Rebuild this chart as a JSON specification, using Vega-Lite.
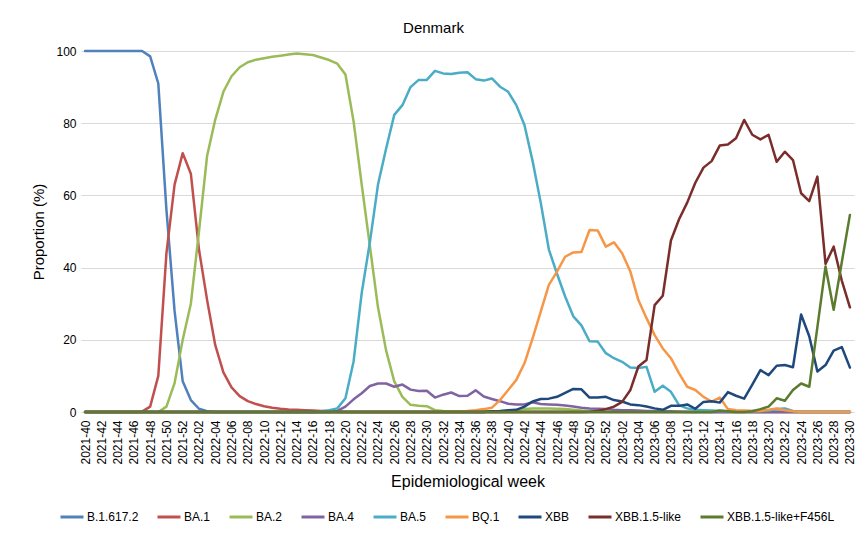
{
"$schema": "https://vega.github.io/schema/vega-lite/v6.json",
"width": 773, "height": 361,
"autosize": {"type": "none"},
"padding": {"left": 81, "top": 51, "right": 12, "bottom": 121},
"background": "white",
"title": {"text": "Denmark", "fontSize": 15, "fontWeight": "normal", "font": "Liberation Sans", "color": "#000000", "anchor": "middle", "frame": "group", "dx": -34, "offset": 9},
"config": {"view": {"stroke": null}},
"data": {"values": [
{"w":"2021-40","v":"B.1.617.2","p":100},{"w":"2021-41","v":"B.1.617.2","p":100},{"w":"2021-42","v":"B.1.617.2","p":100},{"w":"2021-43","v":"B.1.617.2","p":100},{"w":"2021-44","v":"B.1.617.2","p":100},{"w":"2021-45","v":"B.1.617.2","p":100},{"w":"2021-46","v":"B.1.617.2","p":100},{"w":"2021-47","v":"B.1.617.2","p":100},{"w":"2021-48","v":"B.1.617.2","p":98.5},{"w":"2021-49","v":"B.1.617.2","p":91},{"w":"2021-50","v":"B.1.617.2","p":56},{"w":"2021-51","v":"B.1.617.2","p":28},{"w":"2021-52","v":"B.1.617.2","p":8.5},{"w":"2022-01","v":"B.1.617.2","p":3.3},{"w":"2022-02","v":"B.1.617.2","p":0.9},{"w":"2022-03","v":"B.1.617.2","p":0.2},{"w":"2022-04","v":"B.1.617.2","p":0},{"w":"2022-05","v":"B.1.617.2","p":0},{"w":"2022-06","v":"B.1.617.2","p":0},{"w":"2022-07","v":"B.1.617.2","p":0},{"w":"2022-08","v":"B.1.617.2","p":0},{"w":"2022-09","v":"B.1.617.2","p":0},{"w":"2022-10","v":"B.1.617.2","p":0},{"w":"2022-11","v":"B.1.617.2","p":0},{"w":"2022-12","v":"B.1.617.2","p":0},{"w":"2022-13","v":"B.1.617.2","p":0},{"w":"2022-14","v":"B.1.617.2","p":0},{"w":"2022-15","v":"B.1.617.2","p":0},{"w":"2022-16","v":"B.1.617.2","p":0},{"w":"2022-17","v":"B.1.617.2","p":0},{"w":"2022-18","v":"B.1.617.2","p":0},{"w":"2022-19","v":"B.1.617.2","p":0},{"w":"2022-20","v":"B.1.617.2","p":0},{"w":"2022-21","v":"B.1.617.2","p":0},{"w":"2022-22","v":"B.1.617.2","p":0},{"w":"2022-23","v":"B.1.617.2","p":0},{"w":"2022-24","v":"B.1.617.2","p":0},{"w":"2022-25","v":"B.1.617.2","p":0},{"w":"2022-26","v":"B.1.617.2","p":0},{"w":"2022-27","v":"B.1.617.2","p":0},{"w":"2022-28","v":"B.1.617.2","p":0},{"w":"2022-29","v":"B.1.617.2","p":0},{"w":"2022-30","v":"B.1.617.2","p":0},{"w":"2022-31","v":"B.1.617.2","p":0},{"w":"2022-32","v":"B.1.617.2","p":0},{"w":"2022-33","v":"B.1.617.2","p":0},{"w":"2022-34","v":"B.1.617.2","p":0},{"w":"2022-35","v":"B.1.617.2","p":0},{"w":"2022-36","v":"B.1.617.2","p":0},{"w":"2022-37","v":"B.1.617.2","p":0},{"w":"2022-38","v":"B.1.617.2","p":0},{"w":"2022-39","v":"B.1.617.2","p":0},{"w":"2022-40","v":"B.1.617.2","p":0},{"w":"2022-41","v":"B.1.617.2","p":0},{"w":"2022-42","v":"B.1.617.2","p":0},{"w":"2022-43","v":"B.1.617.2","p":0},{"w":"2022-44","v":"B.1.617.2","p":0},{"w":"2022-45","v":"B.1.617.2","p":0},{"w":"2022-46","v":"B.1.617.2","p":0},{"w":"2022-47","v":"B.1.617.2","p":0},{"w":"2022-48","v":"B.1.617.2","p":0},{"w":"2022-49","v":"B.1.617.2","p":0},{"w":"2022-50","v":"B.1.617.2","p":0},{"w":"2022-51","v":"B.1.617.2","p":0},{"w":"2022-52","v":"B.1.617.2","p":0},{"w":"2023-01","v":"B.1.617.2","p":0},{"w":"2023-02","v":"B.1.617.2","p":0},{"w":"2023-03","v":"B.1.617.2","p":0},{"w":"2023-04","v":"B.1.617.2","p":0},{"w":"2023-05","v":"B.1.617.2","p":0},{"w":"2023-06","v":"B.1.617.2","p":0},{"w":"2023-07","v":"B.1.617.2","p":0},{"w":"2023-08","v":"B.1.617.2","p":0},{"w":"2023-09","v":"B.1.617.2","p":0},{"w":"2023-10","v":"B.1.617.2","p":0},{"w":"2023-11","v":"B.1.617.2","p":0},{"w":"2023-12","v":"B.1.617.2","p":0},{"w":"2023-13","v":"B.1.617.2","p":0},{"w":"2023-14","v":"B.1.617.2","p":0},{"w":"2023-15","v":"B.1.617.2","p":0},{"w":"2023-16","v":"B.1.617.2","p":0},{"w":"2023-17","v":"B.1.617.2","p":0},{"w":"2023-18","v":"B.1.617.2","p":0},{"w":"2023-19","v":"B.1.617.2","p":0},{"w":"2023-20","v":"B.1.617.2","p":0},{"w":"2023-21","v":"B.1.617.2","p":0},{"w":"2023-22","v":"B.1.617.2","p":0},{"w":"2023-23","v":"B.1.617.2","p":0},{"w":"2023-24","v":"B.1.617.2","p":0},{"w":"2023-25","v":"B.1.617.2","p":0},{"w":"2023-26","v":"B.1.617.2","p":0},{"w":"2023-27","v":"B.1.617.2","p":0},{"w":"2023-28","v":"B.1.617.2","p":0},{"w":"2023-29","v":"B.1.617.2","p":0},{"w":"2023-30","v":"B.1.617.2","p":0},
{"w":"2021-40","v":"BA.1","p":0},{"w":"2021-41","v":"BA.1","p":0},{"w":"2021-42","v":"BA.1","p":0},{"w":"2021-43","v":"BA.1","p":0},{"w":"2021-44","v":"BA.1","p":0},{"w":"2021-45","v":"BA.1","p":0},{"w":"2021-46","v":"BA.1","p":0},{"w":"2021-47","v":"BA.1","p":0.1},{"w":"2021-48","v":"BA.1","p":1.5},{"w":"2021-49","v":"BA.1","p":10},{"w":"2021-50","v":"BA.1","p":44},{"w":"2021-51","v":"BA.1","p":63},{"w":"2021-52","v":"BA.1","p":71.7},{"w":"2022-01","v":"BA.1","p":66},{"w":"2022-02","v":"BA.1","p":45},{"w":"2022-03","v":"BA.1","p":31},{"w":"2022-04","v":"BA.1","p":18.5},{"w":"2022-05","v":"BA.1","p":11},{"w":"2022-06","v":"BA.1","p":6.8},{"w":"2022-07","v":"BA.1","p":4.4},{"w":"2022-08","v":"BA.1","p":3},{"w":"2022-09","v":"BA.1","p":2.2},{"w":"2022-10","v":"BA.1","p":1.6},{"w":"2022-11","v":"BA.1","p":1.2},{"w":"2022-12","v":"BA.1","p":0.9},{"w":"2022-13","v":"BA.1","p":0.7},{"w":"2022-14","v":"BA.1","p":0.6},{"w":"2022-15","v":"BA.1","p":0.5},{"w":"2022-16","v":"BA.1","p":0.4},{"w":"2022-17","v":"BA.1","p":0.3},{"w":"2022-18","v":"BA.1","p":0.2},{"w":"2022-19","v":"BA.1","p":0.1},{"w":"2022-20","v":"BA.1","p":0},{"w":"2022-21","v":"BA.1","p":0},{"w":"2022-22","v":"BA.1","p":0},{"w":"2022-23","v":"BA.1","p":0},{"w":"2022-24","v":"BA.1","p":0},{"w":"2022-25","v":"BA.1","p":0},{"w":"2022-26","v":"BA.1","p":0},{"w":"2022-27","v":"BA.1","p":0},{"w":"2022-28","v":"BA.1","p":0},{"w":"2022-29","v":"BA.1","p":0},{"w":"2022-30","v":"BA.1","p":0},{"w":"2022-31","v":"BA.1","p":0},{"w":"2022-32","v":"BA.1","p":0},{"w":"2022-33","v":"BA.1","p":0},{"w":"2022-34","v":"BA.1","p":0},{"w":"2022-35","v":"BA.1","p":0},{"w":"2022-36","v":"BA.1","p":0},{"w":"2022-37","v":"BA.1","p":0},{"w":"2022-38","v":"BA.1","p":0},{"w":"2022-39","v":"BA.1","p":0},{"w":"2022-40","v":"BA.1","p":0},{"w":"2022-41","v":"BA.1","p":0},{"w":"2022-42","v":"BA.1","p":0},{"w":"2022-43","v":"BA.1","p":0},{"w":"2022-44","v":"BA.1","p":0},{"w":"2022-45","v":"BA.1","p":0},{"w":"2022-46","v":"BA.1","p":0},{"w":"2022-47","v":"BA.1","p":0},{"w":"2022-48","v":"BA.1","p":0},{"w":"2022-49","v":"BA.1","p":0},{"w":"2022-50","v":"BA.1","p":0},{"w":"2022-51","v":"BA.1","p":0},{"w":"2022-52","v":"BA.1","p":0},{"w":"2023-01","v":"BA.1","p":0},{"w":"2023-02","v":"BA.1","p":0},{"w":"2023-03","v":"BA.1","p":0},{"w":"2023-04","v":"BA.1","p":0},{"w":"2023-05","v":"BA.1","p":0},{"w":"2023-06","v":"BA.1","p":0},{"w":"2023-07","v":"BA.1","p":0},{"w":"2023-08","v":"BA.1","p":0},{"w":"2023-09","v":"BA.1","p":0},{"w":"2023-10","v":"BA.1","p":0},{"w":"2023-11","v":"BA.1","p":0},{"w":"2023-12","v":"BA.1","p":0},{"w":"2023-13","v":"BA.1","p":0},{"w":"2023-14","v":"BA.1","p":0},{"w":"2023-15","v":"BA.1","p":0},{"w":"2023-16","v":"BA.1","p":0},{"w":"2023-17","v":"BA.1","p":0},{"w":"2023-18","v":"BA.1","p":0},{"w":"2023-19","v":"BA.1","p":0},{"w":"2023-20","v":"BA.1","p":0},{"w":"2023-21","v":"BA.1","p":0},{"w":"2023-22","v":"BA.1","p":0},{"w":"2023-23","v":"BA.1","p":0},{"w":"2023-24","v":"BA.1","p":0},{"w":"2023-25","v":"BA.1","p":0},{"w":"2023-26","v":"BA.1","p":0},{"w":"2023-27","v":"BA.1","p":0},{"w":"2023-28","v":"BA.1","p":0},{"w":"2023-29","v":"BA.1","p":0},{"w":"2023-30","v":"BA.1","p":0},
{"w":"2021-40","v":"BA.2","p":0},{"w":"2021-41","v":"BA.2","p":0},{"w":"2021-42","v":"BA.2","p":0},{"w":"2021-43","v":"BA.2","p":0},{"w":"2021-44","v":"BA.2","p":0},{"w":"2021-45","v":"BA.2","p":0},{"w":"2021-46","v":"BA.2","p":0},{"w":"2021-47","v":"BA.2","p":0},{"w":"2021-48","v":"BA.2","p":0},{"w":"2021-49","v":"BA.2","p":0},{"w":"2021-50","v":"BA.2","p":1.5},{"w":"2021-51","v":"BA.2","p":8},{"w":"2021-52","v":"BA.2","p":20},{"w":"2022-01","v":"BA.2","p":30},{"w":"2022-02","v":"BA.2","p":50},{"w":"2022-03","v":"BA.2","p":71},{"w":"2022-04","v":"BA.2","p":81},{"w":"2022-05","v":"BA.2","p":88.7},{"w":"2022-06","v":"BA.2","p":93},{"w":"2022-07","v":"BA.2","p":95.5},{"w":"2022-08","v":"BA.2","p":96.9},{"w":"2022-09","v":"BA.2","p":97.6},{"w":"2022-10","v":"BA.2","p":98},{"w":"2022-11","v":"BA.2","p":98.4},{"w":"2022-12","v":"BA.2","p":98.7},{"w":"2022-13","v":"BA.2","p":99},{"w":"2022-14","v":"BA.2","p":99.3},{"w":"2022-15","v":"BA.2","p":99.1},{"w":"2022-16","v":"BA.2","p":98.9},{"w":"2022-17","v":"BA.2","p":98.2},{"w":"2022-18","v":"BA.2","p":97.5},{"w":"2022-19","v":"BA.2","p":96.5},{"w":"2022-20","v":"BA.2","p":93.5},{"w":"2022-21","v":"BA.2","p":80.5},{"w":"2022-22","v":"BA.2","p":63},{"w":"2022-23","v":"BA.2","p":46},{"w":"2022-24","v":"BA.2","p":29},{"w":"2022-25","v":"BA.2","p":17},{"w":"2022-26","v":"BA.2","p":8.5},{"w":"2022-27","v":"BA.2","p":4.2},{"w":"2022-28","v":"BA.2","p":2},{"w":"2022-29","v":"BA.2","p":1.7},{"w":"2022-30","v":"BA.2","p":1.6},{"w":"2022-31","v":"BA.2","p":0.5},{"w":"2022-32","v":"BA.2","p":0.3},{"w":"2022-33","v":"BA.2","p":0.2},{"w":"2022-34","v":"BA.2","p":0.2},{"w":"2022-35","v":"BA.2","p":0.2},{"w":"2022-36","v":"BA.2","p":0.2},{"w":"2022-37","v":"BA.2","p":0.2},{"w":"2022-38","v":"BA.2","p":0.2},{"w":"2022-39","v":"BA.2","p":0.2},{"w":"2022-40","v":"BA.2","p":0.3},{"w":"2022-41","v":"BA.2","p":0.5},{"w":"2022-42","v":"BA.2","p":0.8},{"w":"2022-43","v":"BA.2","p":1},{"w":"2022-44","v":"BA.2","p":1},{"w":"2022-45","v":"BA.2","p":1},{"w":"2022-46","v":"BA.2","p":0.9},{"w":"2022-47","v":"BA.2","p":0.8},{"w":"2022-48","v":"BA.2","p":0.6},{"w":"2022-49","v":"BA.2","p":0.4},{"w":"2022-50","v":"BA.2","p":0.3},{"w":"2022-51","v":"BA.2","p":0.2},{"w":"2022-52","v":"BA.2","p":0.1},{"w":"2023-01","v":"BA.2","p":0},{"w":"2023-02","v":"BA.2","p":0},{"w":"2023-03","v":"BA.2","p":0},{"w":"2023-04","v":"BA.2","p":0},{"w":"2023-05","v":"BA.2","p":0},{"w":"2023-06","v":"BA.2","p":0},{"w":"2023-07","v":"BA.2","p":0},{"w":"2023-08","v":"BA.2","p":0},{"w":"2023-09","v":"BA.2","p":0},{"w":"2023-10","v":"BA.2","p":0},{"w":"2023-11","v":"BA.2","p":0},{"w":"2023-12","v":"BA.2","p":0},{"w":"2023-13","v":"BA.2","p":0},{"w":"2023-14","v":"BA.2","p":0},{"w":"2023-15","v":"BA.2","p":0},{"w":"2023-16","v":"BA.2","p":0},{"w":"2023-17","v":"BA.2","p":0},{"w":"2023-18","v":"BA.2","p":0},{"w":"2023-19","v":"BA.2","p":0},{"w":"2023-20","v":"BA.2","p":0},{"w":"2023-21","v":"BA.2","p":0},{"w":"2023-22","v":"BA.2","p":0},{"w":"2023-23","v":"BA.2","p":0},{"w":"2023-24","v":"BA.2","p":0},{"w":"2023-25","v":"BA.2","p":0},{"w":"2023-26","v":"BA.2","p":0},{"w":"2023-27","v":"BA.2","p":0},{"w":"2023-28","v":"BA.2","p":0},{"w":"2023-29","v":"BA.2","p":0},{"w":"2023-30","v":"BA.2","p":0},
{"w":"2021-40","v":"BA.4","p":0},{"w":"2021-41","v":"BA.4","p":0},{"w":"2021-42","v":"BA.4","p":0},{"w":"2021-43","v":"BA.4","p":0},{"w":"2021-44","v":"BA.4","p":0},{"w":"2021-45","v":"BA.4","p":0},{"w":"2021-46","v":"BA.4","p":0},{"w":"2021-47","v":"BA.4","p":0},{"w":"2021-48","v":"BA.4","p":0},{"w":"2021-49","v":"BA.4","p":0},{"w":"2021-50","v":"BA.4","p":0},{"w":"2021-51","v":"BA.4","p":0},{"w":"2021-52","v":"BA.4","p":0},{"w":"2022-01","v":"BA.4","p":0},{"w":"2022-02","v":"BA.4","p":0},{"w":"2022-03","v":"BA.4","p":0},{"w":"2022-04","v":"BA.4","p":0},{"w":"2022-05","v":"BA.4","p":0},{"w":"2022-06","v":"BA.4","p":0},{"w":"2022-07","v":"BA.4","p":0},{"w":"2022-08","v":"BA.4","p":0},{"w":"2022-09","v":"BA.4","p":0},{"w":"2022-10","v":"BA.4","p":0},{"w":"2022-11","v":"BA.4","p":0},{"w":"2022-12","v":"BA.4","p":0},{"w":"2022-13","v":"BA.4","p":0},{"w":"2022-14","v":"BA.4","p":0},{"w":"2022-15","v":"BA.4","p":0},{"w":"2022-16","v":"BA.4","p":0},{"w":"2022-17","v":"BA.4","p":0},{"w":"2022-18","v":"BA.4","p":0},{"w":"2022-19","v":"BA.4","p":0.3},{"w":"2022-20","v":"BA.4","p":1.5},{"w":"2022-21","v":"BA.4","p":3.5},{"w":"2022-22","v":"BA.4","p":5.2},{"w":"2022-23","v":"BA.4","p":7.2},{"w":"2022-24","v":"BA.4","p":7.9},{"w":"2022-25","v":"BA.4","p":7.9},{"w":"2022-26","v":"BA.4","p":7},{"w":"2022-27","v":"BA.4","p":7.6},{"w":"2022-28","v":"BA.4","p":6.2},{"w":"2022-29","v":"BA.4","p":5.8},{"w":"2022-30","v":"BA.4","p":5.9},{"w":"2022-31","v":"BA.4","p":4},{"w":"2022-32","v":"BA.4","p":4.8},{"w":"2022-33","v":"BA.4","p":5.4},{"w":"2022-34","v":"BA.4","p":4.4},{"w":"2022-35","v":"BA.4","p":4.5},{"w":"2022-36","v":"BA.4","p":6},{"w":"2022-37","v":"BA.4","p":4.3},{"w":"2022-38","v":"BA.4","p":3.6},{"w":"2022-39","v":"BA.4","p":3},{"w":"2022-40","v":"BA.4","p":2.3},{"w":"2022-41","v":"BA.4","p":2.1},{"w":"2022-42","v":"BA.4","p":2.1},{"w":"2022-43","v":"BA.4","p":2.7},{"w":"2022-44","v":"BA.4","p":2.2},{"w":"2022-45","v":"BA.4","p":2.1},{"w":"2022-46","v":"BA.4","p":2},{"w":"2022-47","v":"BA.4","p":1.8},{"w":"2022-48","v":"BA.4","p":1.5},{"w":"2022-49","v":"BA.4","p":1.2},{"w":"2022-50","v":"BA.4","p":1},{"w":"2022-51","v":"BA.4","p":0.9},{"w":"2022-52","v":"BA.4","p":0.8},{"w":"2023-01","v":"BA.4","p":0.6},{"w":"2023-02","v":"BA.4","p":0.5},{"w":"2023-03","v":"BA.4","p":0.5},{"w":"2023-04","v":"BA.4","p":0.4},{"w":"2023-05","v":"BA.4","p":0.3},{"w":"2023-06","v":"BA.4","p":0.3},{"w":"2023-07","v":"BA.4","p":0.2},{"w":"2023-08","v":"BA.4","p":0.2},{"w":"2023-09","v":"BA.4","p":0.1},{"w":"2023-10","v":"BA.4","p":0},{"w":"2023-11","v":"BA.4","p":0},{"w":"2023-12","v":"BA.4","p":0},{"w":"2023-13","v":"BA.4","p":0},{"w":"2023-14","v":"BA.4","p":0},{"w":"2023-15","v":"BA.4","p":0},{"w":"2023-16","v":"BA.4","p":0},{"w":"2023-17","v":"BA.4","p":0},{"w":"2023-18","v":"BA.4","p":0},{"w":"2023-19","v":"BA.4","p":0},{"w":"2023-20","v":"BA.4","p":0},{"w":"2023-21","v":"BA.4","p":0},{"w":"2023-22","v":"BA.4","p":0},{"w":"2023-23","v":"BA.4","p":0},{"w":"2023-24","v":"BA.4","p":0},{"w":"2023-25","v":"BA.4","p":0},{"w":"2023-26","v":"BA.4","p":0},{"w":"2023-27","v":"BA.4","p":0},{"w":"2023-28","v":"BA.4","p":0},{"w":"2023-29","v":"BA.4","p":0},{"w":"2023-30","v":"BA.4","p":0},
{"w":"2021-40","v":"BA.5","p":0},{"w":"2021-41","v":"BA.5","p":0},{"w":"2021-42","v":"BA.5","p":0},{"w":"2021-43","v":"BA.5","p":0},{"w":"2021-44","v":"BA.5","p":0},{"w":"2021-45","v":"BA.5","p":0},{"w":"2021-46","v":"BA.5","p":0},{"w":"2021-47","v":"BA.5","p":0},{"w":"2021-48","v":"BA.5","p":0},{"w":"2021-49","v":"BA.5","p":0},{"w":"2021-50","v":"BA.5","p":0},{"w":"2021-51","v":"BA.5","p":0},{"w":"2021-52","v":"BA.5","p":0},{"w":"2022-01","v":"BA.5","p":0},{"w":"2022-02","v":"BA.5","p":0},{"w":"2022-03","v":"BA.5","p":0},{"w":"2022-04","v":"BA.5","p":0},{"w":"2022-05","v":"BA.5","p":0},{"w":"2022-06","v":"BA.5","p":0},{"w":"2022-07","v":"BA.5","p":0},{"w":"2022-08","v":"BA.5","p":0},{"w":"2022-09","v":"BA.5","p":0},{"w":"2022-10","v":"BA.5","p":0},{"w":"2022-11","v":"BA.5","p":0},{"w":"2022-12","v":"BA.5","p":0},{"w":"2022-13","v":"BA.5","p":0},{"w":"2022-14","v":"BA.5","p":0},{"w":"2022-15","v":"BA.5","p":0},{"w":"2022-16","v":"BA.5","p":0},{"w":"2022-17","v":"BA.5","p":0.2},{"w":"2022-18","v":"BA.5","p":0.5},{"w":"2022-19","v":"BA.5","p":1},{"w":"2022-20","v":"BA.5","p":3.8},{"w":"2022-21","v":"BA.5","p":14},{"w":"2022-22","v":"BA.5","p":33},{"w":"2022-23","v":"BA.5","p":47},{"w":"2022-24","v":"BA.5","p":63},{"w":"2022-25","v":"BA.5","p":73},{"w":"2022-26","v":"BA.5","p":82.3},{"w":"2022-27","v":"BA.5","p":85},{"w":"2022-28","v":"BA.5","p":90},{"w":"2022-29","v":"BA.5","p":92},{"w":"2022-30","v":"BA.5","p":92},{"w":"2022-31","v":"BA.5","p":94.5},{"w":"2022-32","v":"BA.5","p":93.8},{"w":"2022-33","v":"BA.5","p":93.6},{"w":"2022-34","v":"BA.5","p":94},{"w":"2022-35","v":"BA.5","p":94.1},{"w":"2022-36","v":"BA.5","p":92.2},{"w":"2022-37","v":"BA.5","p":91.8},{"w":"2022-38","v":"BA.5","p":92.4},{"w":"2022-39","v":"BA.5","p":90.1},{"w":"2022-40","v":"BA.5","p":88.7},{"w":"2022-41","v":"BA.5","p":85},{"w":"2022-42","v":"BA.5","p":79.5},{"w":"2022-43","v":"BA.5","p":69.5},{"w":"2022-44","v":"BA.5","p":58},{"w":"2022-45","v":"BA.5","p":45},{"w":"2022-46","v":"BA.5","p":38.3},{"w":"2022-47","v":"BA.5","p":32},{"w":"2022-48","v":"BA.5","p":26.5},{"w":"2022-49","v":"BA.5","p":24},{"w":"2022-50","v":"BA.5","p":19.6},{"w":"2022-51","v":"BA.5","p":19.5},{"w":"2022-52","v":"BA.5","p":16.3},{"w":"2023-01","v":"BA.5","p":14.9},{"w":"2023-02","v":"BA.5","p":13.9},{"w":"2023-03","v":"BA.5","p":12.3},{"w":"2023-04","v":"BA.5","p":12.2},{"w":"2023-05","v":"BA.5","p":12.5},{"w":"2023-06","v":"BA.5","p":5.6},{"w":"2023-07","v":"BA.5","p":7.3},{"w":"2023-08","v":"BA.5","p":5.6},{"w":"2023-09","v":"BA.5","p":1.9},{"w":"2023-10","v":"BA.5","p":1},{"w":"2023-11","v":"BA.5","p":0.6},{"w":"2023-12","v":"BA.5","p":0.5},{"w":"2023-13","v":"BA.5","p":0.4},{"w":"2023-14","v":"BA.5","p":0.3},{"w":"2023-15","v":"BA.5","p":0.2},{"w":"2023-16","v":"BA.5","p":0.2},{"w":"2023-17","v":"BA.5","p":0.2},{"w":"2023-18","v":"BA.5","p":0.3},{"w":"2023-19","v":"BA.5","p":0.3},{"w":"2023-20","v":"BA.5","p":0.4},{"w":"2023-21","v":"BA.5","p":0.8},{"w":"2023-22","v":"BA.5","p":1},{"w":"2023-23","v":"BA.5","p":0.3},{"w":"2023-24","v":"BA.5","p":0},{"w":"2023-25","v":"BA.5","p":0},{"w":"2023-26","v":"BA.5","p":0},{"w":"2023-27","v":"BA.5","p":0},{"w":"2023-28","v":"BA.5","p":0},{"w":"2023-29","v":"BA.5","p":0},{"w":"2023-30","v":"BA.5","p":0},
{"w":"2021-40","v":"BQ.1","p":0},{"w":"2021-41","v":"BQ.1","p":0},{"w":"2021-42","v":"BQ.1","p":0},{"w":"2021-43","v":"BQ.1","p":0},{"w":"2021-44","v":"BQ.1","p":0},{"w":"2021-45","v":"BQ.1","p":0},{"w":"2021-46","v":"BQ.1","p":0},{"w":"2021-47","v":"BQ.1","p":0},{"w":"2021-48","v":"BQ.1","p":0},{"w":"2021-49","v":"BQ.1","p":0},{"w":"2021-50","v":"BQ.1","p":0},{"w":"2021-51","v":"BQ.1","p":0},{"w":"2021-52","v":"BQ.1","p":0},{"w":"2022-01","v":"BQ.1","p":0},{"w":"2022-02","v":"BQ.1","p":0},{"w":"2022-03","v":"BQ.1","p":0},{"w":"2022-04","v":"BQ.1","p":0},{"w":"2022-05","v":"BQ.1","p":0},{"w":"2022-06","v":"BQ.1","p":0},{"w":"2022-07","v":"BQ.1","p":0},{"w":"2022-08","v":"BQ.1","p":0},{"w":"2022-09","v":"BQ.1","p":0},{"w":"2022-10","v":"BQ.1","p":0},{"w":"2022-11","v":"BQ.1","p":0},{"w":"2022-12","v":"BQ.1","p":0},{"w":"2022-13","v":"BQ.1","p":0},{"w":"2022-14","v":"BQ.1","p":0},{"w":"2022-15","v":"BQ.1","p":0},{"w":"2022-16","v":"BQ.1","p":0},{"w":"2022-17","v":"BQ.1","p":0},{"w":"2022-18","v":"BQ.1","p":0},{"w":"2022-19","v":"BQ.1","p":0},{"w":"2022-20","v":"BQ.1","p":0},{"w":"2022-21","v":"BQ.1","p":0},{"w":"2022-22","v":"BQ.1","p":0},{"w":"2022-23","v":"BQ.1","p":0},{"w":"2022-24","v":"BQ.1","p":0},{"w":"2022-25","v":"BQ.1","p":0},{"w":"2022-26","v":"BQ.1","p":0},{"w":"2022-27","v":"BQ.1","p":0},{"w":"2022-28","v":"BQ.1","p":0},{"w":"2022-29","v":"BQ.1","p":0},{"w":"2022-30","v":"BQ.1","p":0},{"w":"2022-31","v":"BQ.1","p":0},{"w":"2022-32","v":"BQ.1","p":0},{"w":"2022-33","v":"BQ.1","p":0},{"w":"2022-34","v":"BQ.1","p":0},{"w":"2022-35","v":"BQ.1","p":0.3},{"w":"2022-36","v":"BQ.1","p":0.5},{"w":"2022-37","v":"BQ.1","p":0.8},{"w":"2022-38","v":"BQ.1","p":1.2},{"w":"2022-39","v":"BQ.1","p":3.3},{"w":"2022-40","v":"BQ.1","p":6.1},{"w":"2022-41","v":"BQ.1","p":8.9},{"w":"2022-42","v":"BQ.1","p":13.5},{"w":"2022-43","v":"BQ.1","p":20.4},{"w":"2022-44","v":"BQ.1","p":27.8},{"w":"2022-45","v":"BQ.1","p":35.2},{"w":"2022-46","v":"BQ.1","p":38.9},{"w":"2022-47","v":"BQ.1","p":43},{"w":"2022-48","v":"BQ.1","p":44.2},{"w":"2022-49","v":"BQ.1","p":44.3},{"w":"2022-50","v":"BQ.1","p":50.4},{"w":"2022-51","v":"BQ.1","p":50.3},{"w":"2022-52","v":"BQ.1","p":45.8},{"w":"2023-01","v":"BQ.1","p":47},{"w":"2023-02","v":"BQ.1","p":44},{"w":"2023-03","v":"BQ.1","p":39},{"w":"2023-04","v":"BQ.1","p":31},{"w":"2023-05","v":"BQ.1","p":26},{"w":"2023-06","v":"BQ.1","p":21.3},{"w":"2023-07","v":"BQ.1","p":17.6},{"w":"2023-08","v":"BQ.1","p":14.9},{"w":"2023-09","v":"BQ.1","p":10.7},{"w":"2023-10","v":"BQ.1","p":7},{"w":"2023-11","v":"BQ.1","p":6.1},{"w":"2023-12","v":"BQ.1","p":4.2},{"w":"2023-13","v":"BQ.1","p":2.9},{"w":"2023-14","v":"BQ.1","p":4},{"w":"2023-15","v":"BQ.1","p":0.8},{"w":"2023-16","v":"BQ.1","p":0.5},{"w":"2023-17","v":"BQ.1","p":0.4},{"w":"2023-18","v":"BQ.1","p":0.3},{"w":"2023-19","v":"BQ.1","p":0.3},{"w":"2023-20","v":"BQ.1","p":0.6},{"w":"2023-21","v":"BQ.1","p":1},{"w":"2023-22","v":"BQ.1","p":0.5},{"w":"2023-23","v":"BQ.1","p":0.2},{"w":"2023-24","v":"BQ.1","p":0},{"w":"2023-25","v":"BQ.1","p":0},{"w":"2023-26","v":"BQ.1","p":0},{"w":"2023-27","v":"BQ.1","p":0},{"w":"2023-28","v":"BQ.1","p":0},{"w":"2023-29","v":"BQ.1","p":0},{"w":"2023-30","v":"BQ.1","p":0},
{"w":"2021-40","v":"XBB","p":0},{"w":"2021-41","v":"XBB","p":0},{"w":"2021-42","v":"XBB","p":0},{"w":"2021-43","v":"XBB","p":0},{"w":"2021-44","v":"XBB","p":0},{"w":"2021-45","v":"XBB","p":0},{"w":"2021-46","v":"XBB","p":0},{"w":"2021-47","v":"XBB","p":0},{"w":"2021-48","v":"XBB","p":0},{"w":"2021-49","v":"XBB","p":0},{"w":"2021-50","v":"XBB","p":0},{"w":"2021-51","v":"XBB","p":0},{"w":"2021-52","v":"XBB","p":0},{"w":"2022-01","v":"XBB","p":0},{"w":"2022-02","v":"XBB","p":0},{"w":"2022-03","v":"XBB","p":0},{"w":"2022-04","v":"XBB","p":0},{"w":"2022-05","v":"XBB","p":0},{"w":"2022-06","v":"XBB","p":0},{"w":"2022-07","v":"XBB","p":0},{"w":"2022-08","v":"XBB","p":0},{"w":"2022-09","v":"XBB","p":0},{"w":"2022-10","v":"XBB","p":0},{"w":"2022-11","v":"XBB","p":0},{"w":"2022-12","v":"XBB","p":0},{"w":"2022-13","v":"XBB","p":0},{"w":"2022-14","v":"XBB","p":0},{"w":"2022-15","v":"XBB","p":0},{"w":"2022-16","v":"XBB","p":0},{"w":"2022-17","v":"XBB","p":0},{"w":"2022-18","v":"XBB","p":0},{"w":"2022-19","v":"XBB","p":0},{"w":"2022-20","v":"XBB","p":0},{"w":"2022-21","v":"XBB","p":0},{"w":"2022-22","v":"XBB","p":0},{"w":"2022-23","v":"XBB","p":0},{"w":"2022-24","v":"XBB","p":0},{"w":"2022-25","v":"XBB","p":0},{"w":"2022-26","v":"XBB","p":0},{"w":"2022-27","v":"XBB","p":0},{"w":"2022-28","v":"XBB","p":0},{"w":"2022-29","v":"XBB","p":0},{"w":"2022-30","v":"XBB","p":0},{"w":"2022-31","v":"XBB","p":0},{"w":"2022-32","v":"XBB","p":0},{"w":"2022-33","v":"XBB","p":0},{"w":"2022-34","v":"XBB","p":0},{"w":"2022-35","v":"XBB","p":0},{"w":"2022-36","v":"XBB","p":0},{"w":"2022-37","v":"XBB","p":0},{"w":"2022-38","v":"XBB","p":0.2},{"w":"2022-39","v":"XBB","p":0.3},{"w":"2022-40","v":"XBB","p":0.5},{"w":"2022-41","v":"XBB","p":0.6},{"w":"2022-42","v":"XBB","p":1.5},{"w":"2022-43","v":"XBB","p":2.9},{"w":"2022-44","v":"XBB","p":3.6},{"w":"2022-45","v":"XBB","p":3.7},{"w":"2022-46","v":"XBB","p":4.2},{"w":"2022-47","v":"XBB","p":5.3},{"w":"2022-48","v":"XBB","p":6.4},{"w":"2022-49","v":"XBB","p":6.3},{"w":"2022-50","v":"XBB","p":4},{"w":"2022-51","v":"XBB","p":4},{"w":"2022-52","v":"XBB","p":4.2},{"w":"2023-01","v":"XBB","p":3.3},{"w":"2023-02","v":"XBB","p":2.9},{"w":"2023-03","v":"XBB","p":2.1},{"w":"2023-04","v":"XBB","p":1.9},{"w":"2023-05","v":"XBB","p":1.5},{"w":"2023-06","v":"XBB","p":1},{"w":"2023-07","v":"XBB","p":0.6},{"w":"2023-08","v":"XBB","p":1.7},{"w":"2023-09","v":"XBB","p":1.7},{"w":"2023-10","v":"XBB","p":2.1},{"w":"2023-11","v":"XBB","p":0.9},{"w":"2023-12","v":"XBB","p":2.8},{"w":"2023-13","v":"XBB","p":3},{"w":"2023-14","v":"XBB","p":2.6},{"w":"2023-15","v":"XBB","p":5.5},{"w":"2023-16","v":"XBB","p":4.5},{"w":"2023-17","v":"XBB","p":3.7},{"w":"2023-18","v":"XBB","p":7.6},{"w":"2023-19","v":"XBB","p":11.6},{"w":"2023-20","v":"XBB","p":10.2},{"w":"2023-21","v":"XBB","p":12.8},{"w":"2023-22","v":"XBB","p":13},{"w":"2023-23","v":"XBB","p":12.4},{"w":"2023-24","v":"XBB","p":27},{"w":"2023-25","v":"XBB","p":21},{"w":"2023-26","v":"XBB","p":11.2},{"w":"2023-27","v":"XBB","p":13},{"w":"2023-28","v":"XBB","p":17},{"w":"2023-29","v":"XBB","p":18},{"w":"2023-30","v":"XBB","p":12.3},
{"w":"2021-40","v":"XBB.1.5-like","p":0},{"w":"2021-41","v":"XBB.1.5-like","p":0},{"w":"2021-42","v":"XBB.1.5-like","p":0},{"w":"2021-43","v":"XBB.1.5-like","p":0},{"w":"2021-44","v":"XBB.1.5-like","p":0},{"w":"2021-45","v":"XBB.1.5-like","p":0},{"w":"2021-46","v":"XBB.1.5-like","p":0},{"w":"2021-47","v":"XBB.1.5-like","p":0},{"w":"2021-48","v":"XBB.1.5-like","p":0},{"w":"2021-49","v":"XBB.1.5-like","p":0},{"w":"2021-50","v":"XBB.1.5-like","p":0},{"w":"2021-51","v":"XBB.1.5-like","p":0},{"w":"2021-52","v":"XBB.1.5-like","p":0},{"w":"2022-01","v":"XBB.1.5-like","p":0},{"w":"2022-02","v":"XBB.1.5-like","p":0},{"w":"2022-03","v":"XBB.1.5-like","p":0},{"w":"2022-04","v":"XBB.1.5-like","p":0},{"w":"2022-05","v":"XBB.1.5-like","p":0},{"w":"2022-06","v":"XBB.1.5-like","p":0},{"w":"2022-07","v":"XBB.1.5-like","p":0},{"w":"2022-08","v":"XBB.1.5-like","p":0},{"w":"2022-09","v":"XBB.1.5-like","p":0},{"w":"2022-10","v":"XBB.1.5-like","p":0},{"w":"2022-11","v":"XBB.1.5-like","p":0},{"w":"2022-12","v":"XBB.1.5-like","p":0},{"w":"2022-13","v":"XBB.1.5-like","p":0},{"w":"2022-14","v":"XBB.1.5-like","p":0},{"w":"2022-15","v":"XBB.1.5-like","p":0},{"w":"2022-16","v":"XBB.1.5-like","p":0},{"w":"2022-17","v":"XBB.1.5-like","p":0},{"w":"2022-18","v":"XBB.1.5-like","p":0},{"w":"2022-19","v":"XBB.1.5-like","p":0},{"w":"2022-20","v":"XBB.1.5-like","p":0},{"w":"2022-21","v":"XBB.1.5-like","p":0},{"w":"2022-22","v":"XBB.1.5-like","p":0},{"w":"2022-23","v":"XBB.1.5-like","p":0},{"w":"2022-24","v":"XBB.1.5-like","p":0},{"w":"2022-25","v":"XBB.1.5-like","p":0},{"w":"2022-26","v":"XBB.1.5-like","p":0},{"w":"2022-27","v":"XBB.1.5-like","p":0},{"w":"2022-28","v":"XBB.1.5-like","p":0},{"w":"2022-29","v":"XBB.1.5-like","p":0},{"w":"2022-30","v":"XBB.1.5-like","p":0},{"w":"2022-31","v":"XBB.1.5-like","p":0},{"w":"2022-32","v":"XBB.1.5-like","p":0},{"w":"2022-33","v":"XBB.1.5-like","p":0},{"w":"2022-34","v":"XBB.1.5-like","p":0},{"w":"2022-35","v":"XBB.1.5-like","p":0},{"w":"2022-36","v":"XBB.1.5-like","p":0},{"w":"2022-37","v":"XBB.1.5-like","p":0},{"w":"2022-38","v":"XBB.1.5-like","p":0},{"w":"2022-39","v":"XBB.1.5-like","p":0},{"w":"2022-40","v":"XBB.1.5-like","p":0},{"w":"2022-41","v":"XBB.1.5-like","p":0},{"w":"2022-42","v":"XBB.1.5-like","p":0},{"w":"2022-43","v":"XBB.1.5-like","p":0},{"w":"2022-44","v":"XBB.1.5-like","p":0},{"w":"2022-45","v":"XBB.1.5-like","p":0},{"w":"2022-46","v":"XBB.1.5-like","p":0},{"w":"2022-47","v":"XBB.1.5-like","p":0},{"w":"2022-48","v":"XBB.1.5-like","p":0},{"w":"2022-49","v":"XBB.1.5-like","p":0},{"w":"2022-50","v":"XBB.1.5-like","p":0.1},{"w":"2022-51","v":"XBB.1.5-like","p":0.3},{"w":"2022-52","v":"XBB.1.5-like","p":0.8},{"w":"2023-01","v":"XBB.1.5-like","p":1.5},{"w":"2023-02","v":"XBB.1.5-like","p":2.8},{"w":"2023-03","v":"XBB.1.5-like","p":6},{"w":"2023-04","v":"XBB.1.5-like","p":12.6},{"w":"2023-05","v":"XBB.1.5-like","p":14.4},{"w":"2023-06","v":"XBB.1.5-like","p":29.6},{"w":"2023-07","v":"XBB.1.5-like","p":32.2},{"w":"2023-08","v":"XBB.1.5-like","p":47.5},{"w":"2023-09","v":"XBB.1.5-like","p":53.4},{"w":"2023-10","v":"XBB.1.5-like","p":58},{"w":"2023-11","v":"XBB.1.5-like","p":63.5},{"w":"2023-12","v":"XBB.1.5-like","p":67.7},{"w":"2023-13","v":"XBB.1.5-like","p":69.5},{"w":"2023-14","v":"XBB.1.5-like","p":73.8},{"w":"2023-15","v":"XBB.1.5-like","p":74.1},{"w":"2023-16","v":"XBB.1.5-like","p":75.8},{"w":"2023-17","v":"XBB.1.5-like","p":80.9},{"w":"2023-18","v":"XBB.1.5-like","p":76.8},{"w":"2023-19","v":"XBB.1.5-like","p":75.5},{"w":"2023-20","v":"XBB.1.5-like","p":76.8},{"w":"2023-21","v":"XBB.1.5-like","p":69.3},{"w":"2023-22","v":"XBB.1.5-like","p":72.1},{"w":"2023-23","v":"XBB.1.5-like","p":69.8},{"w":"2023-24","v":"XBB.1.5-like","p":60.6},{"w":"2023-25","v":"XBB.1.5-like","p":58.4},{"w":"2023-26","v":"XBB.1.5-like","p":65.2},{"w":"2023-27","v":"XBB.1.5-like","p":41},{"w":"2023-28","v":"XBB.1.5-like","p":45.8},{"w":"2023-29","v":"XBB.1.5-like","p":36.4},{"w":"2023-30","v":"XBB.1.5-like","p":29},
{"w":"2021-40","v":"XBB.1.5-like+F456L","p":0},{"w":"2021-41","v":"XBB.1.5-like+F456L","p":0},{"w":"2021-42","v":"XBB.1.5-like+F456L","p":0},{"w":"2021-43","v":"XBB.1.5-like+F456L","p":0},{"w":"2021-44","v":"XBB.1.5-like+F456L","p":0},{"w":"2021-45","v":"XBB.1.5-like+F456L","p":0},{"w":"2021-46","v":"XBB.1.5-like+F456L","p":0},{"w":"2021-47","v":"XBB.1.5-like+F456L","p":0},{"w":"2021-48","v":"XBB.1.5-like+F456L","p":0},{"w":"2021-49","v":"XBB.1.5-like+F456L","p":0},{"w":"2021-50","v":"XBB.1.5-like+F456L","p":0},{"w":"2021-51","v":"XBB.1.5-like+F456L","p":0},{"w":"2021-52","v":"XBB.1.5-like+F456L","p":0},{"w":"2022-01","v":"XBB.1.5-like+F456L","p":0},{"w":"2022-02","v":"XBB.1.5-like+F456L","p":0},{"w":"2022-03","v":"XBB.1.5-like+F456L","p":0},{"w":"2022-04","v":"XBB.1.5-like+F456L","p":0},{"w":"2022-05","v":"XBB.1.5-like+F456L","p":0},{"w":"2022-06","v":"XBB.1.5-like+F456L","p":0},{"w":"2022-07","v":"XBB.1.5-like+F456L","p":0},{"w":"2022-08","v":"XBB.1.5-like+F456L","p":0},{"w":"2022-09","v":"XBB.1.5-like+F456L","p":0},{"w":"2022-10","v":"XBB.1.5-like+F456L","p":0},{"w":"2022-11","v":"XBB.1.5-like+F456L","p":0},{"w":"2022-12","v":"XBB.1.5-like+F456L","p":0},{"w":"2022-13","v":"XBB.1.5-like+F456L","p":0},{"w":"2022-14","v":"XBB.1.5-like+F456L","p":0},{"w":"2022-15","v":"XBB.1.5-like+F456L","p":0},{"w":"2022-16","v":"XBB.1.5-like+F456L","p":0},{"w":"2022-17","v":"XBB.1.5-like+F456L","p":0},{"w":"2022-18","v":"XBB.1.5-like+F456L","p":0},{"w":"2022-19","v":"XBB.1.5-like+F456L","p":0},{"w":"2022-20","v":"XBB.1.5-like+F456L","p":0},{"w":"2022-21","v":"XBB.1.5-like+F456L","p":0},{"w":"2022-22","v":"XBB.1.5-like+F456L","p":0},{"w":"2022-23","v":"XBB.1.5-like+F456L","p":0},{"w":"2022-24","v":"XBB.1.5-like+F456L","p":0},{"w":"2022-25","v":"XBB.1.5-like+F456L","p":0},{"w":"2022-26","v":"XBB.1.5-like+F456L","p":0},{"w":"2022-27","v":"XBB.1.5-like+F456L","p":0},{"w":"2022-28","v":"XBB.1.5-like+F456L","p":0},{"w":"2022-29","v":"XBB.1.5-like+F456L","p":0},{"w":"2022-30","v":"XBB.1.5-like+F456L","p":0},{"w":"2022-31","v":"XBB.1.5-like+F456L","p":0},{"w":"2022-32","v":"XBB.1.5-like+F456L","p":0},{"w":"2022-33","v":"XBB.1.5-like+F456L","p":0},{"w":"2022-34","v":"XBB.1.5-like+F456L","p":0},{"w":"2022-35","v":"XBB.1.5-like+F456L","p":0},{"w":"2022-36","v":"XBB.1.5-like+F456L","p":0},{"w":"2022-37","v":"XBB.1.5-like+F456L","p":0},{"w":"2022-38","v":"XBB.1.5-like+F456L","p":0},{"w":"2022-39","v":"XBB.1.5-like+F456L","p":0},{"w":"2022-40","v":"XBB.1.5-like+F456L","p":0},{"w":"2022-41","v":"XBB.1.5-like+F456L","p":0},{"w":"2022-42","v":"XBB.1.5-like+F456L","p":0},{"w":"2022-43","v":"XBB.1.5-like+F456L","p":0},{"w":"2022-44","v":"XBB.1.5-like+F456L","p":0},{"w":"2022-45","v":"XBB.1.5-like+F456L","p":0},{"w":"2022-46","v":"XBB.1.5-like+F456L","p":0},{"w":"2022-47","v":"XBB.1.5-like+F456L","p":0},{"w":"2022-48","v":"XBB.1.5-like+F456L","p":0},{"w":"2022-49","v":"XBB.1.5-like+F456L","p":0},{"w":"2022-50","v":"XBB.1.5-like+F456L","p":0},{"w":"2022-51","v":"XBB.1.5-like+F456L","p":0},{"w":"2022-52","v":"XBB.1.5-like+F456L","p":0},{"w":"2023-01","v":"XBB.1.5-like+F456L","p":0},{"w":"2023-02","v":"XBB.1.5-like+F456L","p":0},{"w":"2023-03","v":"XBB.1.5-like+F456L","p":0},{"w":"2023-04","v":"XBB.1.5-like+F456L","p":0},{"w":"2023-05","v":"XBB.1.5-like+F456L","p":0},{"w":"2023-06","v":"XBB.1.5-like+F456L","p":0},{"w":"2023-07","v":"XBB.1.5-like+F456L","p":0},{"w":"2023-08","v":"XBB.1.5-like+F456L","p":0},{"w":"2023-09","v":"XBB.1.5-like+F456L","p":0},{"w":"2023-10","v":"XBB.1.5-like+F456L","p":0},{"w":"2023-11","v":"XBB.1.5-like+F456L","p":0},{"w":"2023-12","v":"XBB.1.5-like+F456L","p":0},{"w":"2023-13","v":"XBB.1.5-like+F456L","p":0},{"w":"2023-14","v":"XBB.1.5-like+F456L","p":0.4},{"w":"2023-15","v":"XBB.1.5-like+F456L","p":0.2},{"w":"2023-16","v":"XBB.1.5-like+F456L","p":0},{"w":"2023-17","v":"XBB.1.5-like+F456L","p":0},{"w":"2023-18","v":"XBB.1.5-like+F456L","p":0.2},{"w":"2023-19","v":"XBB.1.5-like+F456L","p":0.8},{"w":"2023-20","v":"XBB.1.5-like+F456L","p":1.5},{"w":"2023-21","v":"XBB.1.5-like+F456L","p":3.8},{"w":"2023-22","v":"XBB.1.5-like+F456L","p":3.1},{"w":"2023-23","v":"XBB.1.5-like+F456L","p":6.1},{"w":"2023-24","v":"XBB.1.5-like+F456L","p":7.9},{"w":"2023-25","v":"XBB.1.5-like+F456L","p":7},{"w":"2023-26","v":"XBB.1.5-like+F456L","p":23.5},{"w":"2023-27","v":"XBB.1.5-like+F456L","p":40.3},{"w":"2023-28","v":"XBB.1.5-like+F456L","p":28.3},{"w":"2023-29","v":"XBB.1.5-like+F456L","p":41.5},{"w":"2023-30","v":"XBB.1.5-like+F456L","p":54.6}
]},
"mark": {"type": "line", "strokeWidth": 2.5, "strokeJoin": "round", "strokeCap": "round"},
"encoding": {
"x": {"field": "w", "type": "ordinal", "sort": null, "scale": {"type": "point", "padding": 0.5},
 "axis": {"title": "Epidemiological week", "labelAngle": -90, "labelExpr": "toNumber(substring(datum.value, 5)) % 2 == 0 ? datum.value : ''", "labelOverlap": false, "ticks": false, "grid": false, "domainColor": "#D9D9D9", "labelPadding": 8, "labelFont": "Liberation Sans", "labelFontSize": 12, "labelColor": "#000000", "titleFont": "Liberation Sans", "titleFontSize": 16, "titleFontWeight": "normal", "titleColor": "#000000", "titlePadding": 9}},
"y": {"field": "p", "type": "quantitative", "scale": {"domain": [0, 100]},
 "axis": {"title": "Proportion (%)", "values": [0, 20, 40, 60, 80, 100], "grid": true, "gridColor": "#D9D9D9", "domain": false, "ticks": false, "labelPadding": 5, "labelFont": "Liberation Sans", "labelFontSize": 12, "labelColor": "#000000", "titleFont": "Liberation Sans", "titleFontSize": 15, "titleFontWeight": "normal", "titleColor": "#000000", "titlePadding": 9}},
"color": {"field": "v", "type": "nominal", "sort": null,
 "scale": {"domain": ["B.1.617.2", "BA.1", "BA.2", "BA.4", "BA.5", "BQ.1", "XBB", "XBB.1.5-like", "XBB.1.5-like+F456L"], "range": ["#4F81BD", "#C0504D", "#9BBB59", "#8064A2", "#4BACC6", "#F79646", "#1F497D", "#7A2E2B", "#5B7B2D"]},
 "legend": {"title": null, "orient": "none", "direction": "horizontal", "gridAlign": "none", "legendX": -22, "legendY": 453, "symbolType": "stroke", "symbolSize": 529, "symbolStrokeWidth": 3, "labelFont": "Liberation Sans", "labelFontSize": 12, "labelColor": "#000000", "labelOffset": 2, "columnPadding": 12}}
}
}
